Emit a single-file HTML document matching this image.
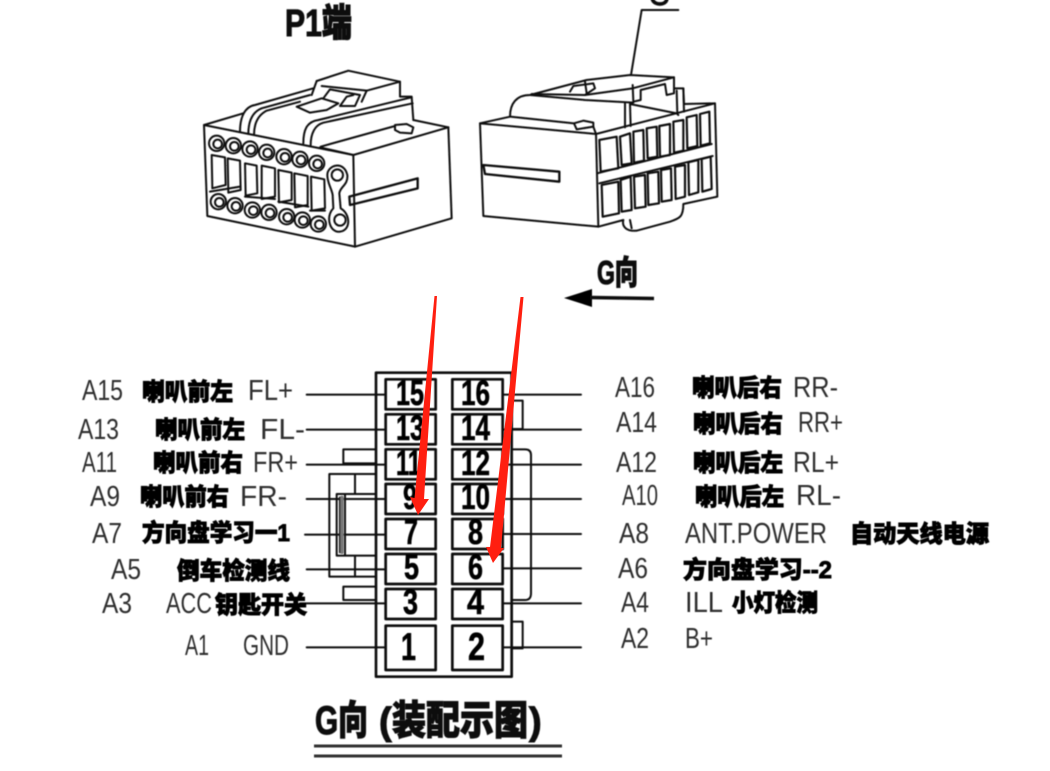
<!DOCTYPE html>
<html lang="zh">
<head>
<meta charset="utf-8">
<title>P1端 G向 装配示图</title>
<style>
html,body{margin:0;padding:0;background:#fff;width:1050px;height:771px;overflow:hidden}
svg{display:block}
.l{font-family:"Liberation Sans",sans-serif;font-size:29px;fill:#2e2e2e}
.c{font-family:"Liberation Sans","Noto Sans CJK SC",sans-serif;font-size:24px;font-weight:900;fill:#000;stroke:#000;stroke-width:.9}
.n{font-family:"Liberation Sans",sans-serif;font-size:35px;font-weight:700;fill:#000;stroke:#000;stroke-width:.6;text-anchor:start}
.t{font-family:"Liberation Sans","Noto Sans CJK SC",sans-serif;font-weight:900;fill:#111;stroke:#111;stroke-width:1.1}
.d{fill:none;stroke:#111;stroke-linejoin:round;stroke-linecap:round}
</style>
</head>
<body>
<svg width="1050" height="771" viewBox="0 0 1050 771" xmlns="http://www.w3.org/2000/svg">
<defs><filter id="b" x="-2%" y="-2%" width="104%" height="104%"><feGaussianBlur stdDeviation="0.5"/></filter></defs>
<rect width="1050" height="771" fill="#fff"/>
<g filter="url(#b)">

<!-- Left connector -->
<g class="d" transform="translate(190 0) scale(.33333)" stroke-width="6">
<path d="M42,375 L490,465 L495,740 L52,648 Z"/>
<path d="M490,465 L775,382 L785,655 L495,740"/>
<path d="M42,375 L160,340"/>
<path d="M670,360 L775,382"/>
<path d="M392,440 L615,378"/>
<path d="M390,442 L490,465"/>
<path d="M150,395 C150,350 165,320 195,315 L370,265"/>
<path d="M175,402 C175,360 190,335 215,325 L360,285"/>
<path d="M192,405 C192,370 205,345 230,332 L330,305"/>
<path d="M340,430 C340,390 350,365 385,360 L665,292"/>
<path d="M362,435 C362,400 375,375 400,368 L668,310"/>
<path d="M380,243 L475,212 L630,245 L630,290 L665,290 L670,360"/>
<path d="M380,243 L365,285"/>
<path d="M530,272 L630,245"/>
<path d="M395,258 L530,272 L515,305"/>
<path d="M320,320 L395,295 L445,310 L410,330 L360,338 Z"/>
<path d="M400,295 L420,268 L510,285 L495,318 L450,318 L470,290 L490,285"/>
<path d="M615,375 L650,372 L670,382 L665,400 L630,398 L615,390 Z"/>
<path d="M478,590 L683,535 L683,565 L480,615 Z" stroke-width="7"/>
<g>
<path d="M65,465 L105,472 L107,555 L67,565 Z"/>
<path d="M113,475 L150,482 L152,570 L115,578 Z"/>
<path d="M165,490 L200,497 L202,580 L167,587 Z"/>
<path d="M215,497 L255,505 L255,590 L215,597 Z"/>
<path d="M265,510 L305,518 L305,600 L267,607 Z"/>
<path d="M313,520 L353,528 L353,615 L315,622 Z"/>
<path d="M363,530 L403,538 L405,625 L365,632 Z"/>
<path d="M60,575 L150,560 M165,590 L255,597 M265,605 L355,620 M360,632 L405,632"/>
</g>
<g stroke-width="6">
<circle cx="80" cy="430" r="23"/><circle cx="130" cy="437" r="23"/><circle cx="180" cy="447" r="23"/><circle cx="230" cy="457" r="23"/><circle cx="282" cy="470" r="23"/><circle cx="330" cy="478" r="23"/><circle cx="380" cy="490" r="23"/>
<circle cx="85" cy="605" r="23"/><circle cx="135" cy="617" r="23"/><circle cx="187" cy="630" r="23"/><circle cx="237" cy="637" r="23"/><circle cx="290" cy="650" r="23"/><circle cx="337" cy="660" r="23"/><circle cx="385" cy="672" r="23"/>
<circle cx="83" cy="432" r="13"/><circle cx="133" cy="439" r="13"/><circle cx="183" cy="449" r="13"/><circle cx="233" cy="459" r="13"/><circle cx="285" cy="472" r="13"/><circle cx="333" cy="480" r="13"/><circle cx="383" cy="492" r="13"/>
<circle cx="88" cy="607" r="13"/><circle cx="138" cy="619" r="13"/><circle cx="190" cy="632" r="13"/><circle cx="240" cy="639" r="13"/><circle cx="293" cy="652" r="13"/><circle cx="340" cy="662" r="13"/><circle cx="388" cy="674" r="13"/>
<path d="M412,525 C412,495 462,480 472,525 C475,555 450,560 448,580 L452,625 C480,640 485,690 450,695 C420,700 405,650 430,625 L428,585 C425,565 412,550 412,525 Z"/>
<circle cx="442" cy="525" r="17"/>
<circle cx="450" cy="660" r="17"/>
</g>
</g>

<!-- Right connector -->
<g class="d" transform="translate(470 0) scale(.33333)" stroke-width="6">
<path d="M30,370 L378,402 L385,680 L40,648 Z"/>
<path d="M378,402 L735,310 L742,590 L640,612 C640,650 630,655 600,665 L500,692 C470,695 455,680 460,660 L385,680"/>
<path d="M480,660 L485,685"/>
<path d="M30,370 L120,350 C120,310 140,285 180,285 L350,240 L480,225 L612,232 L612,265 L640,265 L642,312 L735,310"/>
<path d="M120,350 L312,370 L320,388 L370,380 L378,402"/>
<path d="M312,370 L340,362 L370,368 L370,380"/>
<path d="M180,285 L345,300 L490,308"/>
<path d="M185,282 L345,285 L488,265 L612,232"/>
<path d="M300,275 L310,258 L370,250 L375,265 L345,285"/>
<path d="M345,245 L350,280"/>
<path d="M488,255 L490,305 L512,300 L512,270 L585,252 L590,285 L612,280 L612,265"/>
<path d="M465,310 L465,382"/>
<path d="M480,312 L482,378"/>
<path d="M480,312 L620,340"/>
<path d="M620,272 L622,342 L625,345"/>
<path d="M640,265 L642,335"/>
<path d="M40,495 L268,515 L268,545 L45,522 L40,495" stroke-width="7"/>
<path d="M382,520 L725,432 M388,550 L728,468"/>
<g stroke-width="6.500">
<path d="M388,420 L440,410 L445,505 L392,515 Z"/><path d="M450,410 L480,400 L485,490 L455,495 Z"/><path d="M490,395 L520,390 L522,482 L492,488 Z"/><path d="M530,385 L560,380 L562,470 L533,475 Z"/><path d="M568,378 L600,372 L600,465 L570,470 Z"/><path d="M610,365 L640,360 L640,452 L612,458 Z"/><path d="M650,352 L680,345 L682,438 L652,445 Z"/><path d="M690,342 L718,335 L720,430 L692,437 Z"/>
<path d="M395,555 L445,545 L447,640 L398,650 Z"/><path d="M452,540 L482,530 L485,630 L455,635 Z"/><path d="M492,530 L525,525 L527,620 L495,625 Z"/><path d="M533,520 L565,515 L567,610 L535,615 Z"/><path d="M573,510 L603,505 L605,600 L575,605 Z"/><path d="M615,500 L645,495 L645,590 L617,597 Z"/><path d="M655,487 L685,480 L685,577 L657,585 Z"/><path d="M695,477 L722,470 L725,567 L697,575 Z"/>
</g>
<path d="M483,225 L515,30 L625,30"/>
<path d="M548,0 C555,16 585,16 590,0" stroke-width="11"/>
</g>

<!-- Direction arrow -->
<path d="M564,298 L592,289 L592,307 Z" fill="#000"/>
<path d="M590,297.500 L654,298.500" stroke="#111" stroke-width="3.500" fill="none"/>

<!-- Pinout block -->
<g class="d" transform="translate(300 360) scale(.33333)" stroke="#222">
<rect x="228" y="38" width="407" height="912" stroke-width="8"/>
<g stroke-width="8">
<rect x="257" y="58" width="150" height="90"/><rect x="457" y="58" width="151" height="90"/>
<rect x="257" y="163" width="150" height="90"/><rect x="457" y="163" width="151" height="90"/>
<rect x="257" y="268" width="150" height="90"/><rect x="457" y="268" width="151" height="90"/>
<rect x="257" y="372" width="150" height="90"/><rect x="457" y="372" width="151" height="90"/>
<rect x="257" y="477" width="150" height="90"/><rect x="457" y="477" width="151" height="90"/>
<rect x="257" y="582" width="150" height="90"/><rect x="457" y="582" width="151" height="90"/>
<rect x="257" y="687" width="150" height="90"/><rect x="457" y="687" width="151" height="90"/>
<rect x="257" y="797" width="150" height="133"/><rect x="457" y="797" width="151" height="133"/>
</g>
<g stroke-width="6" stroke="#111">
<path d="M20,104H257M20,209H257M20,314H257M20,417H257M15,524H257M20,628H257M0,730H257M20,862H257"/>
<path d="M608,104H843M608,209H843M608,314H843M608,417H843M608,522H843M608,625H843M608,730H843M608,862H843"/>
<path d="M228,268H130V310H228"/>
<path d="M228,342H88V650H228"/>
<path d="M165,342V402M110,402H228M110,402V587H228M120,412V577M135,402V587M165,587V650"/>
<path d="M228,680H130V720H228"/>
<path d="M635,122H668V207H635"/>
<path d="M635,268H675Q693,268 693,285V700Q693,720 675,720H635"/>
<path d="M635,785H668V865H635"/>
</g>
<path d="M126,412V577" stroke="#777" stroke-width="10"/>
</g>

<!-- Pin numbers -->
<g class="n">
<text x="396" y="405" textLength="28" lengthAdjust="spacingAndGlyphs">15</text>
<text x="461" y="405" textLength="29" lengthAdjust="spacingAndGlyphs">16</text>
<text x="396" y="440" textLength="28" lengthAdjust="spacingAndGlyphs">13</text>
<text x="461" y="440" textLength="29" lengthAdjust="spacingAndGlyphs">14</text>
<text x="396" y="475" textLength="25" lengthAdjust="spacingAndGlyphs">11</text>
<text x="461" y="475" textLength="29" lengthAdjust="spacingAndGlyphs">12</text>
<text x="403" y="509" textLength="14" lengthAdjust="spacingAndGlyphs">9</text>
<text x="461" y="509" textLength="29" lengthAdjust="spacingAndGlyphs">10</text>
<text x="404" y="544" textLength="14" lengthAdjust="spacingAndGlyphs">7</text>
<text x="468" y="544" textLength="15" lengthAdjust="spacingAndGlyphs">8</text>
<text x="404" y="579" textLength="15" lengthAdjust="spacingAndGlyphs">5</text>
<text x="468" y="579" textLength="15" lengthAdjust="spacingAndGlyphs">6</text>
<text x="403" y="614" textLength="15" lengthAdjust="spacingAndGlyphs">3</text>
<text x="467" y="614" textLength="17" lengthAdjust="spacingAndGlyphs">4</text>
<text x="401" y="660" font-size="39" textLength="15" lengthAdjust="spacingAndGlyphs">1</text>
<text x="468" y="660" font-size="39" textLength="17" lengthAdjust="spacingAndGlyphs">2</text>
</g>

<!-- Left labels -->
<g class="l">
<text x="82" y="400" textLength="41" lengthAdjust="spacingAndGlyphs">A15</text>
<text x="248" y="400" textLength="45" lengthAdjust="spacingAndGlyphs">FL+</text>
<text x="78" y="439" textLength="41" lengthAdjust="spacingAndGlyphs">A13</text>
<text x="260" y="439" textLength="45" lengthAdjust="spacingAndGlyphs">FL-</text>
<text x="82" y="472" textLength="35" lengthAdjust="spacingAndGlyphs">A11</text>
<text x="253" y="472" textLength="45" lengthAdjust="spacingAndGlyphs">FR+</text>
<text x="90" y="506" textLength="30" lengthAdjust="spacingAndGlyphs">A9</text>
<text x="240" y="506" textLength="47" lengthAdjust="spacingAndGlyphs">FR-</text>
<text x="92" y="543" textLength="30" lengthAdjust="spacingAndGlyphs">A7</text>
<text x="111" y="579" textLength="30" lengthAdjust="spacingAndGlyphs">A5</text>
<text x="102" y="613" textLength="30" lengthAdjust="spacingAndGlyphs">A3</text>
<text x="166" y="613" textLength="46" lengthAdjust="spacingAndGlyphs">ACC</text>
<text x="185" y="655" textLength="24" lengthAdjust="spacingAndGlyphs">A1</text>
<text x="243" y="655" textLength="46" lengthAdjust="spacingAndGlyphs">GND</text>
</g>
<g class="c">
<text x="142" y="400" textLength="91" lengthAdjust="spacingAndGlyphs">喇叭前左</text>
<text x="155" y="438" textLength="90" lengthAdjust="spacingAndGlyphs">喇叭前左</text>
<text x="153" y="471" textLength="90" lengthAdjust="spacingAndGlyphs">喇叭前右</text>
<text x="140" y="505" textLength="89" lengthAdjust="spacingAndGlyphs">喇叭前右</text>
<text x="142" y="541" textLength="148" lengthAdjust="spacingAndGlyphs">方向盘学习一1</text>
<text x="177" y="579" textLength="113" lengthAdjust="spacingAndGlyphs">倒车检测线</text>
<text x="215" y="613" textLength="92" lengthAdjust="spacingAndGlyphs">钥匙开关</text>
</g>

<!-- Right labels -->
<g class="l">
<text x="615" y="397" textLength="40" lengthAdjust="spacingAndGlyphs">A16</text>
<text x="793" y="397" textLength="45" lengthAdjust="spacingAndGlyphs">RR-</text>
<text x="616" y="432" textLength="41" lengthAdjust="spacingAndGlyphs">A14</text>
<text x="798" y="432" textLength="45" lengthAdjust="spacingAndGlyphs">RR+</text>
<text x="616" y="472" textLength="41" lengthAdjust="spacingAndGlyphs">A12</text>
<text x="793" y="472" textLength="46" lengthAdjust="spacingAndGlyphs">RL+</text>
<text x="622" y="505" textLength="36" lengthAdjust="spacingAndGlyphs">A10</text>
<text x="796" y="505" textLength="45" lengthAdjust="spacingAndGlyphs">RL-</text>
<text x="619" y="543" textLength="30" lengthAdjust="spacingAndGlyphs">A8</text>
<text x="685" y="543" textLength="142" lengthAdjust="spacingAndGlyphs">ANT.POWER</text>
<text x="618" y="578" textLength="30" lengthAdjust="spacingAndGlyphs">A6</text>
<text x="621" y="612" textLength="28" lengthAdjust="spacingAndGlyphs">A4</text>
<text x="685" y="612" textLength="38" lengthAdjust="spacingAndGlyphs">ILL</text>
<text x="621" y="648" textLength="28" lengthAdjust="spacingAndGlyphs">A2</text>
<text x="685" y="648" textLength="28" lengthAdjust="spacingAndGlyphs">B+</text>
</g>
<g class="c">
<text x="692" y="396" textLength="90" lengthAdjust="spacingAndGlyphs">喇叭后右</text>
<text x="693" y="432" textLength="90" lengthAdjust="spacingAndGlyphs">喇叭后右</text>
<text x="693" y="471" textLength="90" lengthAdjust="spacingAndGlyphs">喇叭后左</text>
<text x="695" y="505" textLength="89" lengthAdjust="spacingAndGlyphs">喇叭后左</text>
<text x="850" y="542" textLength="139" lengthAdjust="spacingAndGlyphs">自动天线电源</text>
<text x="683" y="578" textLength="149" lengthAdjust="spacingAndGlyphs">方向盘学习--2</text>
<text x="732" y="611" textLength="86" lengthAdjust="spacingAndGlyphs">小灯检测</text>
</g>

<!-- Titles -->
<text class="t" x="285" y="36" font-size="38" textLength="67" lengthAdjust="spacingAndGlyphs">P1端</text>
<text class="t" x="597" y="284" font-size="33" textLength="41" lengthAdjust="spacingAndGlyphs">G向</text>
<text class="t" x="315" y="734" font-size="40" textLength="53" lengthAdjust="spacingAndGlyphs">G向</text>
<text class="t" x="379" y="734" font-size="38">(</text>
<text class="t" x="392" y="734" font-size="40" textLength="136" lengthAdjust="spacingAndGlyphs">装配示图</text>
<text class="t" x="529" y="734" font-size="38">)</text>
<path d="M314,746H562M314,756H562" stroke="#333" stroke-width="3" fill="none"/>
</g>

<!-- Red arrows -->
<path d="M434.500,296 L437,296 L424,499 L429,499 L418,515 L410,497 L414.500,498 Z" fill="#ff1f10"/>
<path d="M520.500,297 L523.500,297 L501,548 L504,548 L493,563 L486,547 L490,547 Z" fill="#ff1f10"/>
</svg>
</body>
</html>
